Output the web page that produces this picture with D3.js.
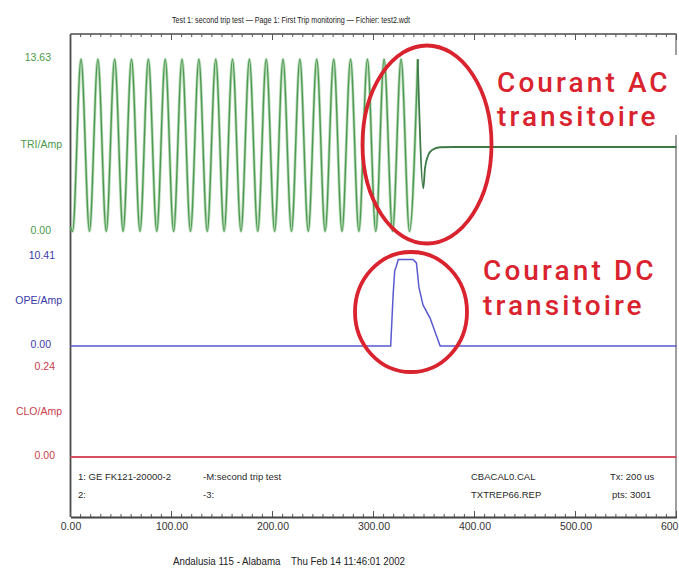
<!DOCTYPE html>
<html><head><meta charset="utf-8">
<script src="https://cdn.jsdelivr.net/npm/d3@7"></script>
<style>
html,body{margin:0;padding:0;background:#fff;}
svg{display:block;}
</style></head>
<body>
<svg id="c" width="679" height="570"></svg>
<script>
// ---- data ----
const titleText = "Test 1: second trip test \u2014 Page 1: First Trip monitoring \u2014 Fichier: test2.wdt";
const footerText = "Andalusia 115 - Alabama    Thu Feb 14 11:46:01 2002";
const xTicks = [0, 100, 200, 300, 400, 500, 600];

// TRI/Amp (green) : waveform vertices (time ms, value A)
const triTimes = [0, 2.1, 10.4, 18.8, 27.1, 35.4, 43.7, 52.1, 60.4, 68.8, 77.1, 85.4, 93.8, 102.1, 110.4, 118.8, 127.1,
  135.4, 143.8, 152.1, 160.4, 168.8, 177.1, 185.4, 193.8, 202.1, 210.4, 218.8, 227.1, 235.4, 243.8, 252.1, 260.6,
  268.8, 277.3, 285.5, 294.0, 302.2, 310.5, 318.9, 327.3, 335.6, 343.8];
const triValues = [0.4, 0.05, 13.45, 0.05, 13.45, 0.05, 13.45, 0.05, 13.45, 0.05, 13.45, 0.05, 13.45, 0.05, 13.45, 0.05, 13.45,
  0.05, 13.45, 0.05, 13.45, 0.05, 13.45, 0.05, 13.45, 0.05, 13.45, 0.05, 13.45, 0.05, 13.45, 0.05, 13.45,
  0.05, 13.45, 0.05, 13.45, 0.05, 13.45, 0.05, 13.45, 0.05, 13.45];
const triTransTimes = [343.8, 349.3, 351.0, 354.3, 358.0, 366.0, 380.0, 600.0];
const triTransValues = [13.45, 3.4, 4.98, 6.0, 6.39, 6.6, 6.62, 6.62];

// OPE/Amp (blue)
const opeTimes = [0, 317.0, 319.5, 321.0, 322.5, 324.5, 339.0, 342.5, 345.0, 349.0, 356.0, 361.0, 366.0, 600.0];
const opeValues = [0, 0, 6.0, 8.6, 9.1, 9.9, 9.9, 9.5, 6.7, 4.7, 3.2, 1.6, 0, 0];

// CLO/Amp (red)
const cloTimes = [0, 600];
const cloValues = [0, 0];

const panels = [
  {unit: "TRI/Amp", max: 13.63, maxLabel: "13.63", color: "#4c9c4f", labelColor: "#4a9a4a"},
  {unit: "OPE/Amp", max: 10.41, maxLabel: "10.41", color: "#5a5ad0", labelColor: "#3a3aa8"},
  {unit: "CLO/Amp", max: 0.24, maxLabel: "0.24", color: "#d4505e", labelColor: "#c8404c"}
];

const infoRow1 = ["1: GE FK121-20000-2", "-M:second trip test", "CBACAL0.CAL", "Tx: 200 us"];
const infoRow2 = ["2:", "-3:", "TXTREP66.REP", "pts: 3001"];

const annotAC = ["Courant AC", "transitoire"];
const annotDC = ["Courant DC", "transitoire"];

// ---- layout ----
const svg = d3.select("#c");
const L = 70.5, R = 676.5, T = 34, B = 517;
const x = d3.scaleLinear().domain([0, 600]).range([L, R]);
const yRanges = [[232, 57], [346, 255], [457, 366]];
const ys = panels.map((p, i) => d3.scaleLinear().domain([0, p.max]).range(yRanges[i]));

svg.append("rect").attr("width", 679).attr("height", 570).attr("fill", "#fff");

// title
svg.append("text").attr("x", 291).attr("y", 23).attr("text-anchor", "middle")
  .attr("font-family", "Liberation Sans, Arial, sans-serif").attr("font-size", 9)
  .attr("textLength", 238).attr("lengthAdjust", "spacingAndGlyphs")
  .attr("fill", "#222").text(titleText);

// frame
const frame = svg.append("g").attr("stroke", "#4a4a4a").attr("fill", "none");
frame.append("line").attr("x1", L).attr("x2", R).attr("y1", T).attr("y2", T).attr("stroke-width", 1.6);
frame.append("line").attr("x1", L).attr("x2", L).attr("y1", T).attr("y2", B).attr("stroke-width", 1.8);
frame.append("line").attr("x1", R - 0.5).attr("x2", R - 0.5).attr("y1", T).attr("y2", B).attr("stroke-width", 1.4).attr("stroke", "#777");

// minor / major ticks top (down) and bottom (up)
const minor = d3.range(0, 601, 10);
const tg = svg.append("g").attr("stroke", "#555").attr("stroke-width", 1);
tg.selectAll(".tt").data(minor).join("line")
  .attr("x1", d => x(d)).attr("x2", d => x(d))
  .attr("y1", T).attr("y2", d => T + (d % 100 === 0 ? 6 : 3));
tg.selectAll(".tb").data(minor).join("line")
  .attr("x1", d => x(d)).attr("x2", d => x(d))
  .attr("y1", B).attr("y2", d => B - (d % 100 === 0 ? 6 : 3));

// bottom axis
const xAxis = d3.axisBottom(x).tickValues(xTicks).tickSize(0).tickPadding(6).tickFormat(d3.format(".2f"));
const gx = svg.append("g").attr("transform", `translate(0,${B})`).call(xAxis);
gx.select(".domain").attr("stroke", "#444").attr("stroke-width", 1.8);
gx.selectAll("text").attr("font-family", "Liberation Sans, Arial, sans-serif").attr("font-size", 10.5).attr("fill", "#333");

// left labels per panel
const labelX = [[51, 51, 62], [55, 51, 62], [55, 55, 62]];
panels.forEach((p, i) => {
  const y = ys[i];
  const g = svg.append("g").attr("font-family", "Liberation Sans, Arial, sans-serif")
    .attr("font-size", 10.5).attr("fill", p.labelColor).attr("text-anchor", "end");
  g.append("text").attr("x", labelX[i][0]).attr("y", y(p.max)).attr("dy", "0.35em").text(p.maxLabel);
  g.append("text").attr("x", labelX[i][1]).attr("y", y(0) - 2).attr("dy", "0.35em").text("0.00");
  g.append("text").attr("x", labelX[i][2]).attr("y", (y(0) + y(p.max)) / 2).attr("dy", "0.35em").text(p.unit);
});

// series
const lineMono = d3.line().x(d => x(d[0])).y(d => d[1]).curve(d3.curveMonotoneX);
const lineLin = d3.line().x(d => x(d[0])).y(d => d[1]);

const triPts = triTimes.map((t, i) => [t, ys[0](triValues[i])]);
svg.append("path").attr("d", lineMono(triPts)).attr("fill", "none")
  .attr("stroke", "#8cc48e").attr("stroke-width", 3).attr("stroke-opacity", 0.6);
svg.append("path").attr("d", lineMono(triPts)).attr("fill", "none")
  .attr("stroke", "#4f9a52").attr("stroke-width", 1.4);
const triTr = triTransTimes.map((t, i) => [t, ys[0](triTransValues[i])]);
svg.append("path").attr("d", lineMono(triTr)).attr("fill", "none")
  .attr("stroke", "#3e7a46").attr("stroke-width", 1.8);

const opePts = opeTimes.map((t, i) => [t, ys[1](opeValues[i])]);
svg.append("path").attr("d", lineLin(opePts)).attr("fill", "none")
  .attr("stroke", panels[1].color).attr("stroke-width", 1.5);

const cloPts = cloTimes.map((t, i) => [t, ys[2](cloValues[i])]);
svg.append("path").attr("d", lineLin(cloPts)).attr("fill", "none")
  .attr("stroke", panels[2].color).attr("stroke-width", 1.8);

// info text
const infoX = [78, 203, 471, 610];
const info = svg.append("g").attr("font-family", "Liberation Sans, Arial, sans-serif")
  .attr("font-size", 9.5).attr("fill", "#2a2a2a");
infoRow1.forEach((t, i) => info.append("text").attr("x", infoX[i]).attr("y", 480).text(t));
infoRow2.forEach((t, i) => info.append("text").attr("x", infoX[i] + (i === 3 ? 2 : 0)).attr("y", 498).text(t));

// footer
svg.append("text").attr("x", 289).attr("y", 565).attr("text-anchor", "middle")
  .attr("font-family", "Liberation Sans, Arial, sans-serif").attr("font-size", 10)
  .attr("textLength", 232).attr("lengthAdjust", "spacingAndGlyphs")
  .attr("xml:space", "preserve").style("white-space", "pre")
  .attr("fill", "#222").text(footerText);

// annotations
const red = "#d9232f";
svg.append("ellipse").attr("cx", 427).attr("cy", 144.5).attr("rx", 64.5).attr("ry", 99)
  .attr("fill", "none").attr("stroke", red).attr("stroke-width", 3.8);
svg.append("ellipse").attr("cx", 411).attr("cy", 312).attr("rx", 56).attr("ry", 60)
  .attr("fill", "none").attr("stroke", red).attr("stroke-width", 3.8);

svg.append("rect").attr("x", 494).attr("y", 55).attr("width", 185).attr("height", 80).attr("fill", "#fff");
const ann = svg.append("g").attr("font-family", "Roboto, sans-serif").attr("font-weight", 500)
  .attr("font-size", 28).attr("fill", red).style("letter-spacing", "3.1px");
ann.append("text").attr("x", 497).attr("y", 92).text(annotAC[0]);
ann.append("text").attr("x", 497).attr("y", 126).text(annotAC[1]);
ann.append("text").attr("x", 483).attr("y", 280).text(annotDC[0]);
ann.append("text").attr("x", 483).attr("y", 315).text(annotDC[1]);
</script>
</body></html>
